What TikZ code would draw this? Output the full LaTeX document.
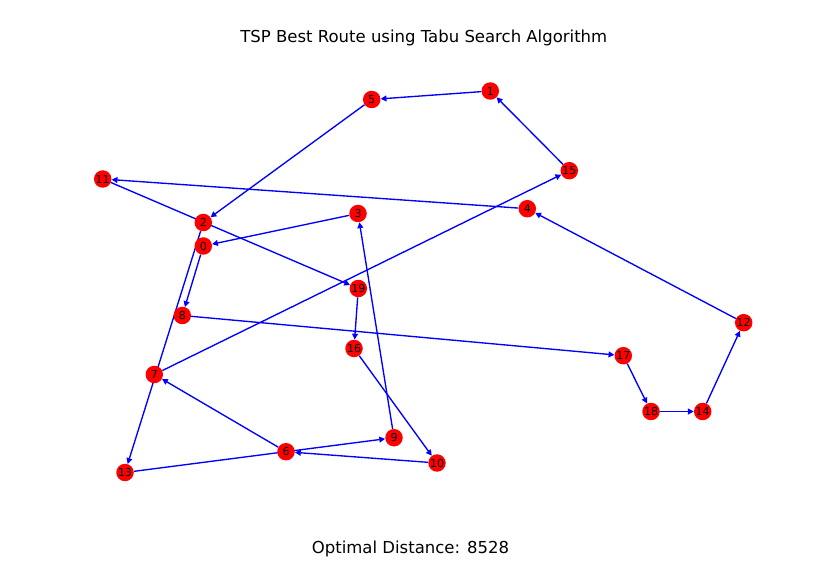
\documentclass[tikz,border=0pt]{standalone}
\usepackage{fontspec}
\setmainfont{DejaVu Sans}
\usetikzlibrary{arrows.meta,backgrounds}
\definecolor{nodered}{RGB}{255,0,0}
\definecolor{edgeblue}{RGB}{0,0,255}
\tikzset{
  city/.style={circle,fill=nodered,draw=none,minimum size=17.5pt,inner sep=0pt,font=\fontsize{11}{13}\selectfont},
  route/.style={draw=edgeblue,line width=1.35pt,-{Triangle[length=5.8pt,width=5.8pt]}},
  caption/.style={font=\fontsize{16.5}{20}\selectfont}
}
\begin{document}
\begin{tikzpicture}[x=1pt,y=-1pt]
\useasboundingbox (0,0) rectangle (820,569);
\node[caption] (title) at (423.8,38) {TSP Best Route using Tabu Search Algorithm};
\node[caption] (dist) at (410.5,549) {Optimal Distance: 8528};
\node[city] (n0) at (203.3,246) {0};
\node[city] (n1) at (490.3,91) {1};
\node[city] (n2) at (203.3,222.5) {2};
\node[city] (n3) at (358,213.5) {3};
\node[city] (n4) at (527.3,208.7) {4};
\node[city] (n5) at (371.7,99.5) {5};
\node[city] (n6) at (286,451.7) {6};
\node[city] (n7) at (154.3,374.5) {7};
\node[city] (n8) at (182.3,315.5) {8};
\node[city] (n9) at (394,437.7) {9};
\node[city] (n10) at (437,463) {10};
\node[city] (n11) at (102.7,179) {11};
\node[city] (n12) at (743.7,322.7) {12};
\node[city] (n13) at (125,472.5) {13};
\node[city] (n14) at (702.7,411.5) {14};
\node[city] (n15) at (569.3,170.7) {15};
\node[city] (n16) at (354,348.5) {16};
\node[city] (n17) at (623.3,355.7) {17};
\node[city] (n18) at (651,411.5) {18};
\node[city] (n19) at (358.3,288.5) {19};
\begin{scope}[on background layer]
\draw[route] (n0) -- (n8);
\draw[route] (n8) -- (n17);
\draw[route] (n17) -- (n18);
\draw[route] (n18) -- (n14);
\draw[route] (n14) -- (n12);
\draw[route] (n12) -- (n4);
\draw[route] (n4) -- (n11);
\draw[route] (n11) -- (n19);
\draw[route] (n19) -- (n16);
\draw[route] (n16) -- (n10);
\draw[route] (n10) -- (n6);
\draw[route] (n6) -- (n7);
\draw[route] (n7) -- (n15);
\draw[route] (n15) -- (n1);
\draw[route] (n1) -- (n5);
\draw[route] (n5) -- (n2);
\draw[route] (n2) -- (n13);
\draw[route] (n13) -- (n9);
\draw[route] (n9) -- (n3);
\draw[route] (n3) -- (n0);
\end{scope}
\end{tikzpicture}
\end{document}
